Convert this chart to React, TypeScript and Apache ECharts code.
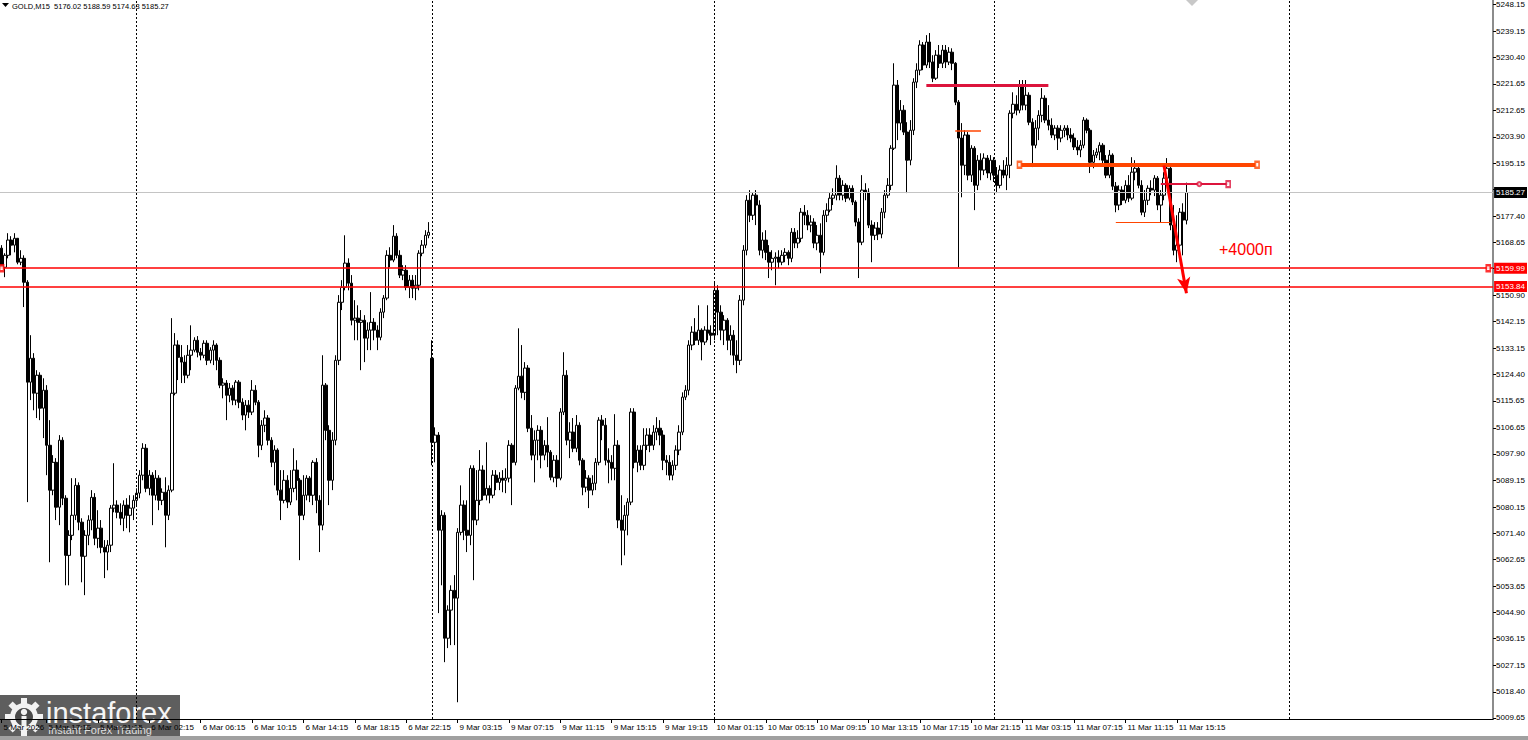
import React, { useEffect, useRef } from "react";
import * as echarts from "echarts";

const symbolName = "GOLD,M15";
const barSlots = 465;

const opens = [
5166.7, 5160.3, 5164.3, 5169.4, 5167.7, 5170.0, 5162.0, 5163.3, 5155.3, 5121.9,
5129.9, 5118.2, 5124.2, 5113.2, 5119.2, 5100.8, 5085.8, 5095.1, 5080.1, 5102.5,
5083.1, 5064.0, 5070.7, 5077.4, 5087.4, 5075.1, 5063.7, 5070.7, 5075.8, 5083.4,
5069.7, 5073.1, 5066.7, 5065.1, 5067.4, 5079.8, 5080.8, 5078.4, 5076.4, 5080.8,
5077.4, 5079.8, 5082.4, 5084.8, 5090.8, 5099.8, 5086.4, 5090.8, 5084.1, 5089.8,
5082.4, 5085.1, 5077.4, 5085.8, 5118.2, 5134.3, 5130.2, 5128.6, 5124.2, 5130.9,
5132.6, 5135.9, 5131.9, 5130.9, 5134.9, 5129.2, 5132.6, 5134.3, 5129.2, 5120.9,
5121.6, 5117.5, 5119.9, 5115.9, 5121.9, 5115.2, 5110.9, 5114.2, 5111.9, 5119.2,
5115.2, 5100.8, 5107.5, 5109.9, 5102.5, 5095.1, 5099.2, 5085.8, 5082.4, 5089.1,
5081.8, 5086.4, 5092.5, 5089.1, 5077.4, 5084.1, 5089.8, 5084.1, 5095.1, 5082.4,
5074.1, 5120.9, 5105.8, 5089.1, 5102.5, 5129.2, 5148.6, 5153.6, 5161.7, 5155.0,
5142.6, 5143.3, 5141.9, 5142.6, 5136.6, 5139.3, 5141.9, 5139.3, 5136.9, 5145.3,
5150.0, 5164.3, 5162.7, 5170.7, 5164.3, 5157.7, 5159.3, 5153.6, 5156.0, 5153.3,
5154.3, 5165.0, 5167.7, 5171.0, 5129.9, 5101.8, 5104.2, 5072.4, 5077.4, 5036.3,
5045.7, 5052.3, 5049.7, 5071.7, 5080.8, 5072.4, 5070.7, 5093.1, 5075.8, 5082.4,
5092.5, 5084.1, 5086.4, 5084.1, 5090.8, 5088.4, 5089.8, 5089.1, 5089.8, 5100.8,
5095.1, 5119.9, 5123.9, 5118.5, 5126.6, 5106.5, 5097.5, 5102.5, 5105.8, 5097.5,
5100.8, 5098.5, 5090.1, 5095.8, 5089.8, 5111.9, 5124.2, 5102.5, 5105.2, 5099.8,
5107.5, 5095.8, 5086.8, 5089.8, 5085.8, 5088.1, 5095.1, 5109.2, 5107.5, 5095.8,
5095.1, 5093.1, 5100.8, 5075.8, 5072.4, 5077.4, 5081.8, 5111.9, 5095.1, 5099.2,
5094.1, 5100.8, 5104.2, 5100.8, 5105.2, 5106.5, 5104.2, 5095.8, 5095.1, 5090.8,
5094.1, 5099.2, 5105.2, 5116.9, 5119.2, 5134.3, 5138.6, 5135.9, 5139.3, 5135.3,
5139.3, 5138.3, 5137.6, 5152.6, 5145.3, 5139.3, 5142.6, 5135.9, 5137.6, 5130.9,
5129.2, 5149.3, 5166.0, 5182.7, 5177.7, 5184.4, 5181.1, 5166.0, 5169.4, 5165.3,
5162.0, 5163.3, 5163.7, 5162.0, 5164.3, 5165.3, 5163.3, 5172.0, 5168.4, 5170.0,
5178.7, 5177.7, 5174.4, 5175.4, 5168.4, 5171.0, 5165.3, 5177.7, 5179.4, 5183.4,
5184.4, 5190.1, 5184.4, 5187.7, 5183.4, 5186.7, 5182.1, 5175.4, 5168.7, 5186.1,
5185.4, 5174.4, 5171.0, 5173.4, 5171.4, 5178.7, 5184.4, 5187.7, 5200.1, 5221.2,
5208.5, 5212.8, 5205.5, 5196.1, 5206.1, 5222.2, 5226.2, 5234.6, 5227.9, 5235.6,
5228.9, 5223.5, 5231.2, 5228.5, 5232.9, 5228.9, 5232.2, 5228.5, 5215.5, 5203.5,
5194.4, 5204.5, 5191.1, 5200.1, 5187.7, 5196.1, 5192.8, 5196.8, 5191.8, 5196.1,
5191.1, 5187.7, 5192.8, 5191.1, 5194.4, 5211.8, 5214.8, 5212.8, 5221.2, 5214.5,
5217.8, 5208.8, 5201.1, 5206.8, 5211.1, 5216.8, 5209.5, 5207.8, 5204.5, 5206.8,
5203.5, 5206.1, 5206.8, 5204.5, 5203.5, 5200.5, 5199.5, 5201.1, 5209.5, 5206.1,
5195.4, 5197.8, 5198.8, 5201.1, 5196.1, 5191.1, 5197.8, 5187.4, 5181.1, 5186.1,
5182.7, 5187.7, 5183.4, 5192.1, 5193.4, 5187.7, 5178.7, 5182.7, 5186.7, 5186.1,
5190.1, 5181.1, 5184.4, 5190.1, 5193.4, 5174.4, 5166.0, 5167.7, 5178.7, 5176.02,
];

const closes = [
5160.3, 5164.3, 5169.4, 5167.7, 5170.0, 5162.0, 5163.3, 5155.3, 5121.9, 5129.9,
5118.2, 5124.2, 5113.2, 5119.2, 5100.8, 5085.8, 5095.1, 5080.1, 5102.5, 5083.1,
5064.0, 5070.7, 5077.4, 5087.4, 5075.1, 5063.7, 5070.7, 5075.8, 5083.4, 5069.7,
5073.1, 5066.7, 5065.1, 5067.4, 5079.8, 5080.8, 5078.4, 5076.4, 5080.8, 5077.4,
5079.8, 5082.4, 5084.8, 5090.8, 5099.8, 5086.4, 5090.8, 5084.1, 5089.8, 5082.4,
5085.1, 5077.4, 5085.8, 5118.2, 5134.3, 5130.2, 5128.6, 5124.2, 5130.9, 5132.6,
5135.9, 5131.9, 5130.9, 5134.9, 5129.2, 5132.6, 5134.3, 5129.2, 5120.9, 5121.6,
5117.5, 5119.9, 5115.9, 5121.9, 5115.2, 5110.9, 5114.2, 5111.9, 5119.2, 5115.2,
5100.8, 5107.5, 5109.9, 5102.5, 5095.1, 5099.2, 5085.8, 5082.4, 5089.1, 5081.8,
5086.4, 5092.5, 5089.1, 5077.4, 5084.1, 5089.8, 5084.1, 5095.1, 5082.4, 5074.1,
5120.9, 5105.8, 5089.1, 5102.5, 5129.2, 5148.6, 5153.6, 5161.7, 5155.0, 5142.6,
5143.3, 5141.9, 5142.6, 5136.6, 5139.3, 5141.9, 5139.3, 5136.9, 5145.3, 5150.0,
5164.3, 5162.7, 5170.7, 5164.3, 5157.7, 5159.3, 5153.6, 5156.0, 5153.3, 5154.3,
5165.0, 5167.7, 5171.0, 5172.0, 5101.8, 5104.2, 5072.4, 5077.4, 5036.3, 5045.7,
5052.3, 5049.7, 5071.7, 5080.8, 5072.4, 5070.7, 5093.1, 5075.8, 5082.4, 5092.5,
5084.1, 5086.4, 5084.1, 5090.8, 5088.4, 5089.8, 5089.1, 5089.8, 5100.8, 5095.1,
5119.9, 5123.9, 5118.5, 5126.6, 5106.5, 5097.5, 5102.5, 5105.8, 5097.5, 5100.8,
5098.5, 5090.1, 5095.8, 5089.8, 5111.9, 5124.2, 5102.5, 5105.2, 5099.8, 5107.5,
5095.8, 5086.8, 5089.8, 5085.8, 5088.1, 5095.1, 5109.2, 5107.5, 5095.8, 5095.1,
5093.1, 5100.8, 5075.8, 5072.4, 5077.4, 5081.8, 5111.9, 5095.1, 5099.2, 5094.1,
5100.8, 5104.2, 5100.8, 5105.2, 5106.5, 5104.2, 5095.8, 5095.1, 5090.8, 5094.1,
5099.2, 5105.2, 5116.9, 5119.2, 5134.3, 5138.6, 5135.9, 5139.3, 5135.3, 5139.3,
5138.3, 5137.6, 5152.6, 5145.3, 5139.3, 5142.6, 5135.9, 5137.6, 5130.9, 5129.2,
5149.3, 5166.0, 5182.7, 5177.7, 5184.4, 5181.1, 5166.0, 5169.4, 5165.3, 5162.0,
5163.3, 5163.7, 5162.0, 5164.3, 5165.3, 5163.3, 5172.0, 5168.4, 5170.0, 5178.7,
5177.7, 5174.4, 5175.4, 5168.4, 5171.0, 5165.3, 5177.7, 5179.4, 5183.4, 5184.4,
5190.1, 5184.4, 5187.7, 5183.4, 5186.7, 5182.1, 5175.4, 5168.7, 5186.1, 5185.4,
5174.4, 5171.0, 5173.4, 5171.4, 5178.7, 5184.4, 5187.7, 5200.1, 5221.2, 5208.5,
5212.8, 5205.5, 5196.1, 5206.1, 5222.2, 5226.2, 5234.6, 5227.9, 5235.6, 5228.9,
5223.5, 5231.2, 5228.5, 5232.9, 5228.9, 5232.2, 5228.5, 5215.5, 5203.5, 5194.4,
5204.5, 5191.1, 5200.1, 5187.7, 5196.1, 5192.8, 5196.8, 5191.8, 5196.1, 5191.1,
5187.7, 5192.8, 5191.1, 5194.4, 5211.8, 5214.8, 5212.8, 5221.2, 5214.5, 5217.8,
5208.8, 5201.1, 5206.8, 5211.1, 5216.8, 5209.5, 5207.8, 5204.5, 5206.8, 5203.5,
5206.1, 5206.8, 5204.5, 5203.5, 5200.5, 5199.5, 5201.1, 5209.5, 5206.1, 5195.4,
5197.8, 5198.8, 5201.1, 5196.1, 5191.1, 5197.8, 5187.4, 5181.1, 5186.1, 5182.7,
5187.7, 5183.4, 5192.1, 5193.4, 5187.7, 5178.7, 5182.7, 5186.7, 5186.1, 5190.1,
5181.1, 5184.4, 5190.1, 5193.4, 5174.4, 5166.0, 5167.7, 5178.7, 5176.1, 5185.27,
];

const highs = [
5167.7, 5165.0, 5171.7, 5170.7, 5171.7, 5170.0, 5166.0, 5164.3, 5156.0, 5137.6,
5131.6, 5125.9, 5125.2, 5123.2, 5120.9, 5109.2, 5097.5, 5096.5, 5104.2, 5103.5,
5084.1, 5072.4, 5089.8, 5089.8, 5088.4, 5076.4, 5072.4, 5077.4, 5085.8, 5084.8,
5079.1, 5075.8, 5069.1, 5069.1, 5080.8, 5094.8, 5082.4, 5081.4, 5082.4, 5083.1,
5084.1, 5084.1, 5086.4, 5092.5, 5101.5, 5101.2, 5092.5, 5091.8, 5092.5, 5090.8,
5086.4, 5090.1, 5087.4, 5143.3, 5138.3, 5135.9, 5134.3, 5130.9, 5134.3, 5140.9,
5136.9, 5137.3, 5133.3, 5135.9, 5135.9, 5133.6, 5135.9, 5134.9, 5130.2, 5123.2,
5122.6, 5121.6, 5120.9, 5122.6, 5122.6, 5116.5, 5115.9, 5115.9, 5122.6, 5120.9,
5115.9, 5109.2, 5112.5, 5110.9, 5103.5, 5100.8, 5099.8, 5092.5, 5092.5, 5090.8,
5092.5, 5099.8, 5095.8, 5089.8, 5090.8, 5090.8, 5090.5, 5095.8, 5096.5, 5084.1,
5130.9, 5121.6, 5107.5, 5105.2, 5130.9, 5151.0, 5156.0, 5171.0, 5163.3, 5157.7,
5149.3, 5147.6, 5146.0, 5144.3, 5141.9, 5152.0, 5143.3, 5140.9, 5146.6, 5151.0,
5166.0, 5167.0, 5174.4, 5171.7, 5166.0, 5161.0, 5161.0, 5157.7, 5157.7, 5157.7,
5166.0, 5169.4, 5172.7, 5175.4, 5135.9, 5106.8, 5105.2, 5079.1, 5078.4, 5047.3,
5054.0, 5057.4, 5073.1, 5087.4, 5082.4, 5082.4, 5094.1, 5094.1, 5092.5, 5099.2,
5094.1, 5101.8, 5087.4, 5092.5, 5092.5, 5091.8, 5092.5, 5093.1, 5102.5, 5101.5,
5120.9, 5139.9, 5134.3, 5128.6, 5127.6, 5110.9, 5105.8, 5107.5, 5107.2, 5102.5,
5110.2, 5099.2, 5097.5, 5097.5, 5113.2, 5131.9, 5125.9, 5108.5, 5109.9, 5110.9,
5108.5, 5096.5, 5092.5, 5090.8, 5090.8, 5096.5, 5110.2, 5110.9, 5109.9, 5099.8,
5097.5, 5111.2, 5102.5, 5084.1, 5080.8, 5083.1, 5113.2, 5113.2, 5100.8, 5100.8,
5106.5, 5106.5, 5106.5, 5107.5, 5110.2, 5109.2, 5105.8, 5097.5, 5097.5, 5095.8,
5100.8, 5107.5, 5118.5, 5120.9, 5135.9, 5140.6, 5143.3, 5147.6, 5139.9, 5140.6,
5147.6, 5140.9, 5155.3, 5154.3, 5147.6, 5144.3, 5143.3, 5140.9, 5139.3, 5135.9,
5151.0, 5167.7, 5184.4, 5186.1, 5185.4, 5186.1, 5182.7, 5172.0, 5172.7, 5167.7,
5166.0, 5165.3, 5166.0, 5166.0, 5166.7, 5166.0, 5173.4, 5173.4, 5172.7, 5180.1,
5181.1, 5179.4, 5177.7, 5176.7, 5174.4, 5175.0, 5179.4, 5181.7, 5185.1, 5186.7,
5194.4, 5191.1, 5189.4, 5188.4, 5187.7, 5187.7, 5182.7, 5176.7, 5191.1, 5188.4,
5186.7, 5176.0, 5175.4, 5175.4, 5180.1, 5186.1, 5190.1, 5201.1, 5228.5, 5222.9,
5216.2, 5214.5, 5208.8, 5209.5, 5223.5, 5228.5, 5236.2, 5235.6, 5237.9, 5238.6,
5231.2, 5232.9, 5234.6, 5234.6, 5234.6, 5233.9, 5233.5, 5228.9, 5216.2, 5208.5,
5206.1, 5205.5, 5201.1, 5200.8, 5197.8, 5198.4, 5198.4, 5197.8, 5197.8, 5197.1,
5193.8, 5194.4, 5196.1, 5197.1, 5212.8, 5218.8, 5217.8, 5222.9, 5222.9, 5222.9,
5218.8, 5210.1, 5209.5, 5212.8, 5220.2, 5217.8, 5214.5, 5210.1, 5207.8, 5207.8,
5207.8, 5207.8, 5207.8, 5206.8, 5205.1, 5202.8, 5202.8, 5210.5, 5210.1, 5206.8,
5199.5, 5200.1, 5202.1, 5201.8, 5197.8, 5199.5, 5198.4, 5188.8, 5187.7, 5187.4,
5189.4, 5191.1, 5197.1, 5196.1, 5194.4, 5189.4, 5186.1, 5187.7, 5189.4, 5191.1,
5190.8, 5186.1, 5192.1, 5196.8, 5194.4, 5181.1, 5177.7, 5180.1, 5181.7, 5188.59,
];

const lows = [
5160.0, 5157.0, 5163.3, 5164.3, 5165.3, 5161.3, 5161.0, 5147.0, 5081.8, 5115.9,
5112.5, 5109.9, 5109.2, 5103.2, 5090.8, 5061.7, 5084.1, 5075.8, 5074.1, 5080.8,
5054.0, 5054.0, 5069.1, 5075.8, 5072.4, 5055.0, 5050.7, 5067.4, 5072.4, 5067.4,
5066.4, 5064.7, 5056.4, 5059.0, 5065.1, 5078.4, 5076.4, 5074.1, 5072.1, 5073.1,
5071.7, 5075.8, 5080.8, 5083.1, 5089.1, 5085.1, 5084.1, 5074.1, 5082.4, 5079.1,
5080.8, 5066.7, 5075.8, 5085.1, 5117.5, 5122.6, 5121.6, 5121.6, 5123.2, 5125.9,
5131.9, 5130.2, 5129.2, 5129.9, 5127.6, 5128.2, 5127.6, 5125.9, 5119.9, 5116.5,
5109.2, 5115.2, 5114.2, 5114.2, 5113.2, 5109.2, 5105.8, 5109.9, 5110.9, 5114.2,
5096.8, 5099.2, 5105.2, 5100.8, 5093.5, 5087.4, 5084.1, 5075.8, 5081.4, 5079.8,
5080.8, 5085.1, 5082.4, 5062.4, 5075.8, 5082.4, 5081.8, 5080.8, 5078.1, 5065.1,
5072.4, 5102.5, 5080.8, 5085.8, 5100.8, 5127.6, 5146.0, 5152.6, 5152.6, 5140.9,
5135.9, 5135.9, 5125.9, 5128.6, 5132.6, 5132.6, 5135.9, 5132.6, 5135.9, 5143.3,
5149.3, 5160.3, 5162.0, 5163.3, 5156.7, 5156.0, 5152.6, 5150.0, 5150.0, 5149.3,
5152.6, 5164.0, 5166.7, 5170.0, 5094.1, 5095.1, 5044.7, 5054.0, 5028.3, 5033.0,
5034.0, 5034.0, 5014.9, 5070.7, 5069.1, 5065.1, 5067.4, 5055.7, 5074.1, 5080.8,
5082.4, 5082.4, 5081.4, 5083.1, 5085.8, 5085.8, 5085.1, 5084.8, 5088.4, 5080.8,
5094.1, 5119.2, 5116.5, 5115.9, 5105.2, 5095.8, 5088.4, 5095.8, 5093.1, 5095.8,
5093.5, 5089.1, 5088.4, 5086.8, 5089.1, 5110.9, 5100.8, 5096.5, 5098.5, 5098.5,
5094.1, 5084.1, 5085.1, 5079.8, 5084.1, 5085.8, 5094.1, 5102.5, 5094.1, 5088.1,
5089.1, 5089.1, 5073.1, 5060.7, 5064.0, 5070.7, 5080.8, 5093.1, 5091.8, 5092.5,
5092.5, 5099.2, 5098.5, 5099.2, 5102.5, 5100.8, 5092.5, 5090.8, 5089.1, 5089.1,
5092.5, 5097.5, 5104.2, 5115.9, 5117.5, 5132.6, 5134.3, 5134.3, 5129.2, 5134.3,
5135.9, 5134.3, 5135.9, 5137.6, 5135.9, 5134.3, 5132.6, 5130.9, 5127.6, 5124.9,
5127.6, 5147.6, 5164.3, 5175.4, 5176.1, 5174.4, 5164.3, 5163.3, 5162.7, 5156.7,
5159.3, 5154.3, 5160.0, 5161.0, 5162.0, 5161.0, 5162.0, 5166.7, 5166.7, 5168.7,
5174.4, 5172.7, 5172.0, 5166.7, 5166.0, 5158.3, 5164.3, 5175.4, 5178.7, 5181.1,
5182.7, 5182.7, 5182.7, 5182.1, 5182.7, 5181.1, 5174.0, 5156.7, 5167.7, 5182.7,
5173.4, 5162.0, 5169.4, 5169.4, 5170.0, 5176.7, 5183.4, 5186.1, 5199.5, 5202.8,
5206.1, 5204.5, 5185.1, 5194.4, 5204.5, 5220.2, 5224.5, 5226.2, 5226.9, 5226.9,
5222.2, 5222.9, 5226.9, 5226.9, 5226.9, 5227.9, 5226.2, 5214.5, 5160.3, 5183.7,
5191.1, 5189.4, 5188.8, 5179.4, 5186.1, 5189.4, 5191.1, 5190.1, 5189.4, 5188.8,
5185.1, 5186.7, 5190.1, 5186.1, 5190.1, 5210.1, 5211.1, 5211.8, 5212.8, 5212.8,
5207.8, 5193.8, 5200.1, 5202.8, 5208.8, 5208.5, 5206.1, 5203.5, 5202.8, 5199.5,
5202.1, 5203.8, 5202.8, 5202.1, 5199.5, 5197.8, 5197.1, 5200.1, 5205.1, 5191.8,
5193.4, 5196.8, 5196.1, 5195.1, 5190.1, 5190.1, 5186.1, 5178.7, 5179.4, 5181.1,
5181.7, 5182.1, 5182.7, 5189.4, 5186.7, 5177.7, 5177.1, 5181.1, 5184.4, 5184.1,
5179.4, 5175.4, 5182.7, 5187.7, 5172.7, 5164.3, 5162.0, 5164.3, 5164.3, 5174.63,
];

// time axis labels (bar slot index -> label)
const timeTickIndex = [0, 14, 30, 46, 62, 78, 94, 110, 126, 142, 158, 174, 190, 206, 222, 238, 254, 270, 286, 302, 318, 334, 350, 366];
const timeTickLabels = [
  "5 Mar 2026", "5 Mar 17:15", "5 Mar 21:15", "6 Mar 02:15", "6 Mar 06:15", "6 Mar 10:15",
  "6 Mar 14:15", "6 Mar 18:15", "6 Mar 22:15", "9 Mar 03:15", "9 Mar 07:15", "9 Mar 11:15",
  "9 Mar 15:15", "9 Mar 19:15", "10 Mar 01:15", "10 Mar 05:15", "10 Mar 09:15", "10 Mar 13:15",
  "10 Mar 17:15", "10 Mar 21:15", "11 Mar 03:15", "11 Mar 07:15", "11 Mar 11:15", "11 Mar 15:15",
];

const priceTicks = [
  5248.15, 5239.15, 5230.40, 5221.65, 5212.65, 5203.90, 5195.15, 5186.40, 5177.40, 5168.65,
  5159.90, 5150.90, 5142.15, 5133.15, 5124.40, 5115.65, 5106.65, 5097.90, 5089.15, 5080.15,
  5071.40, 5062.65, 5053.65, 5044.90, 5036.15, 5027.15, 5018.40, 5009.65,
];
const priceMin = 5009.3;
const priceMax = 5249.65;

// day separators (bar slot index)
const daySeparators = [42, 134, 222, 309, 401];
// horizontal levels
const supportLevels = [5159.99, 5153.84];
// drawn objects: [startIndex, endIndex, price]
const resistanceTop = [288, 326, 5221.2];
const shortMark = [297, 305, 5206.1];
const rangeTop = [317, 391, 5194.6];
const entryLine = [361, 382, 5188.1];
const rangeBottom = [347, 364, 5175.5];
// arrow: [index, price] -> [index, price]
const arrowFrom = [362, 5194.3];
const arrowTo = [369, 5151.6];
const targetText = "+4000п";

const FONT = "'Liberation Sans', Arial, sans-serif";

function buildOption() {
  const n = closes.length;
  const last = n - 1;
  const lastClose = closes[last];
  const candleData = closes.map((c, i) => [opens[i], c, lows[i], highs[i]]);
  const categories = Array.from({ length: barSlots }, (_, i) => String(i));
  const tickMap = new Map<number, string>();
  timeTickIndex.forEach((idx, k) => tickMap.set(idx, timeTickLabels[k]));

  const boxLabel = (bg: string, txt: string) => ({
    show: true,
    position: "end",
    distance: 1,
    formatter: () => txt,
    backgroundColor: bg,
    color: "#fff",
    fontSize: 8,
    fontFamily: FONT,
    padding: [2, 2, 1, 2],
  });

  const seg = (s: number[], color: string, width: number) => [
    { coord: [s[0], s[2]], lineStyle: { color, width, type: "solid" } },
    { coord: [s[1], s[2]] },
  ];

  const markData: any[] = [
    ...daySeparators.map((ix) => ({
      xAxis: ix,
      lineStyle: { color: "#000", width: 1, type: [2, 2] },
      label: { show: false },
    })),
    {
      yAxis: lastClose,
      lineStyle: { color: "#c4c4c4", width: 1, type: "solid" },
      label: boxLabel("#000", lastClose.toFixed(2)),
    },
    ...supportLevels.map((p) => ({
      yAxis: p,
      lineStyle: { color: "#ff0000", width: 1.5, type: "solid" },
      label: boxLabel("#ff0000", p.toFixed(2)),
    })),
    seg(resistanceTop, "#dc143c", 3),
    seg(shortMark, "#ff4500", 1.5),
    seg(rangeTop, "#ff4500", 4),
    seg(entryLine, "#dc143c", 2),
    seg(rangeBottom, "#ff4500", 1),
    [
      { coord: arrowFrom, lineStyle: { color: "#ff0000", width: 3, type: "solid" } },
      { coord: arrowTo, symbol: "arrow", symbolSize: [10, 16] },
    ],
  ];

  const handleSquares = [
    { value: [rangeTop[0], rangeTop[2]], itemStyle: { color: "#ff4500" } },
    { value: [rangeTop[1], rangeTop[2]], itemStyle: { color: "#ff4500" } },
    { value: [entryLine[1], entryLine[2]], itemStyle: { color: "#dc143c" } },
    { value: [0, supportLevels[0]], itemStyle: { color: "#ff0000" } },
    { value: [barSlots - 2, supportLevels[0]], itemStyle: { color: "#ff0000" } },
  ];
  const handleCircles = [
    { value: [Math.round((entryLine[0] + entryLine[1]) / 2) + 1, entryLine[2]], itemStyle: { color: "#dc143c" } },
  ];

  const header = `${symbolName}  ${opens[last].toFixed(2)} ${highs[last].toFixed(2)} ${lows[last].toFixed(2)} ${closes[last].toFixed(2)}`;

  const gearTeeth = Array.from({ length: 8 }, (_, k) => ({
    type: "rect",
    x: 24,
    y: 717,
    rotation: (k * Math.PI) / 4,
    shape: { x: -3, y: -19, width: 6, height: 8 },
    style: { fill: "#f2f2f2" },
  }));

  return {
    animation: false,
    backgroundColor: "#ffffff",
    grid: { left: 0, top: 0, right: 34, bottom: 21, containLabel: false },
    xAxis: {
      type: "category",
      data: categories,
      boundaryGap: true,
      axisLine: { show: true, onZero: false, lineStyle: { color: "#000", width: 1 } },
      axisTick: {
        show: true,
        alignWithLabel: true,
        interval: (i: number) => tickMap.has(i),
        length: 4,
        lineStyle: { color: "#000" },
      },
      axisLabel: {
        show: true,
        interval: (i: number) => tickMap.has(i),
        formatter: (_v: string, i: number) => tickMap.get(i) || "",
        align: "left",
        padding: [0, 0, 0, 2],
        margin: 4,
        fontSize: 8,
        color: "#000",
        fontFamily: FONT,
      },
      splitLine: { show: false },
    },
    yAxis: {
      type: "value",
      position: "right",
      min: priceMin,
      max: priceMax,
      axisLine: { show: true, lineStyle: { color: "#8c8c8c", width: 2 } },
      axisTick: { show: true, customValues: priceTicks, length: 3, lineStyle: { color: "#000" } },
      axisLabel: {
        show: true,
        customValues: priceTicks,
        formatter: (v: number) => v.toFixed(2),
        margin: 3,
        fontSize: 8,
        color: "#000",
        fontFamily: FONT,
      },
      splitLine: { show: false },
    },
    series: [
      {
        type: "candlestick",
        name: symbolName,
        data: candleData,
        barWidth: 3,
        itemStyle: {
          color: "#ffffff",
          color0: "#000000",
          borderColor: "#000000",
          borderColor0: "#000000",
          borderWidth: 1,
        },
        markLine: {
          silent: true,
          symbol: ["none", "none"],
          animation: false,
          label: { show: false },
          emphasis: { disabled: true },
          data: markData,
          z: 10,
        },
      },
      {
        type: "scatter",
        symbol: "emptyRect",
        symbolSize: [4, 6],
        silent: true,
        z: 12,
        itemStyle: { borderWidth: 1 },
        data: handleSquares,
      },
      {
        type: "scatter",
        symbol: "emptyCircle",
        symbolSize: 4,
        silent: true,
        z: 12,
        itemStyle: { borderWidth: 1 },
        data: handleCircles,
      },
    ],
    graphic: [
      {
        type: "polygon",
        z: 100,
        shape: { points: [[2, 3], [9, 3], [5.5, 7]] },
        style: { fill: "#000" },
      },
      {
        type: "text",
        z: 100,
        x: 12,
        y: 6,
        style: { text: header, font: `7.5px ${FONT}`, fill: "#000", verticalAlign: "middle" },
      },
      {
        type: "polygon",
        z: 100,
        shape: { points: [[1186, 0], [1198, 0], [1192, 6]] },
        style: { fill: "#c8c8c8" },
      },
      {
        type: "text",
        z: 100,
        x: 1219,
        y: 249,
        style: { text: targetText, font: `16px ${FONT}`, fill: "#ff0000", verticalAlign: "middle" },
      },
      {
        type: "rect",
        z: 90,
        shape: { x: 0, y: 736, width: 1528, height: 4 },
        style: { fill: "#a0a0a0" },
      },
      {
        type: "group",
        z: 110,
        children: [
          {
            type: "rect",
            shape: { x: 0, y: 695, width: 180, height: 45 },
            style: { fill: "rgba(72,72,72,0.88)" },
          },
          ...gearTeeth,
          { type: "circle", shape: { cx: 24, cy: 717, r: 14 }, style: { fill: "#f2f2f2" } },
          { type: "circle", shape: { cx: 24, cy: 717, r: 9 }, style: { fill: "#4a4a4a" } },
          { type: "circle", shape: { cx: 24, cy: 712, r: 3.2 }, style: { fill: "#f2f2f2" } },
          { type: "rect", shape: { x: 21.5, y: 716, width: 5, height: 14 }, style: { fill: "#f2f2f2" } },
          {
            type: "text",
            x: 46,
            y: 713,
            style: { text: "instaforex", font: `29px ${FONT}`, fill: "#f5f5f5", verticalAlign: "middle" },
          },
          {
            type: "text",
            x: 48,
            y: 730,
            style: { text: "Instant Forex Trading", font: `11px ${FONT}`, fill: "#dedede", verticalAlign: "middle" },
          },
        ],
      },
    ],
  };
}

export default function App() {
  const ref = useRef<HTMLDivElement>(null);
  useEffect(() => {
    if (!ref.current) return;
    const chart = echarts.init(ref.current, undefined, { renderer: "svg" });
    chart.setOption(buildOption() as any);
    return () => {
      chart.dispose();
    };
  }, []);
  return (
    <div
      ref={ref}
      style={{ position: "absolute", left: 0, top: 0, width: 1528, height: 740, background: "#fff" }}
    />
  );
}
